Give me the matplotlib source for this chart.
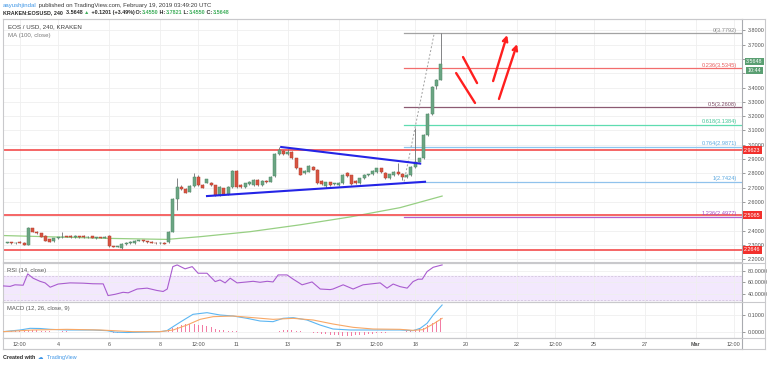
import matplotlib
matplotlib.use('Agg')
import matplotlib.pyplot as plt
from matplotlib.lines import Line2D
import numpy as np

plt.rcParams['font.family'] = ['Liberation Sans', 'DejaVu Sans']

# EOS/USD 4H candles on Kraken, first candle Feb 2 00:00, last Feb 19 00:00
first_day = 2.0
opens = [2.315, 2.318, 2.312, 2.322, 2.315, 2.302,
         2.415, 2.392, 2.380, 2.362, 2.340, 2.328,
         2.345, 2.352, 2.360, 2.362, 2.354, 2.360,
         2.362, 2.354, 2.360, 2.345, 2.352, 2.350,
         2.362, 2.292, 2.288, 2.278, 2.305, 2.310,
         2.310, 2.328, 2.330, 2.325, 2.322, 2.316,
         2.310, 2.315, 2.320, 2.392, 2.620, 2.706,
         2.690, 2.672, 2.711, 2.776, 2.718, 2.734,
         2.735, 2.715, 2.648, 2.695, 2.655, 2.706,
         2.818, 2.720, 2.705, 2.725, 2.718, 2.753,
         2.718, 2.748, 2.741, 2.780, 2.935, 2.955,
         2.935, 2.950, 2.905, 2.835, 2.800, 2.811,
         2.846, 2.825, 2.745, 2.712, 2.737, 2.725,
         2.718, 2.730, 2.800, 2.785, 2.748, 2.730,
         2.765, 2.788, 2.795, 2.810, 2.835, 2.804,
         2.765, 2.788, 2.811, 2.795, 2.776, 2.785,
         2.846, 2.881, 2.905, 3.068, 3.215, 3.410,
         3.455]
highs = [2.322, 2.322, 2.320, 2.326, 2.318, 2.425,
         2.418, 2.395, 2.385, 2.366, 2.344, 2.350,
         2.356, 2.390, 2.364, 2.366, 2.366, 2.364,
         2.366, 2.360, 2.364, 2.356, 2.356, 2.360,
         2.366, 2.295, 2.294, 2.310, 2.320, 2.326,
         2.335, 2.334, 2.334, 2.328, 2.326, 2.320,
         2.318, 2.320, 2.398, 2.630, 2.765, 2.715,
         2.695, 2.716, 2.804, 2.785, 2.724, 2.762,
         2.740, 2.720, 2.708, 2.700, 2.710, 2.822,
         2.822, 2.728, 2.735, 2.745, 2.758, 2.758,
         2.752, 2.752, 2.780, 2.940, 2.985, 2.965,
         2.972, 2.955, 2.910, 2.840, 2.825, 2.856,
         2.852, 2.830, 2.750, 2.742, 2.742, 2.735,
         2.738, 2.792, 2.810, 2.790, 2.752, 2.770,
         2.792, 2.798, 2.820, 2.840, 2.840, 2.810,
         2.798, 2.816, 2.870, 2.800, 2.792, 2.850,
         3.115, 2.910, 3.075, 3.220, 3.410, 3.460,
         3.7821]
lows = [2.310, 2.308, 2.308, 2.312, 2.298, 2.298,
        2.388, 2.376, 2.352, 2.325, 2.318, 2.322,
        2.342, 2.350, 2.352, 2.350, 2.350, 2.350,
        2.350, 2.350, 2.346, 2.340, 2.346, 2.346,
        2.283, 2.284, 2.284, 2.272, 2.302, 2.306,
        2.306, 2.324, 2.322, 2.316, 2.310, 2.306,
        2.305, 2.304, 2.316, 2.388, 2.543, 2.685,
        2.660, 2.668, 2.706, 2.712, 2.695, 2.730,
        2.714, 2.643, 2.643, 2.650, 2.650, 2.700,
        2.695, 2.700, 2.700, 2.720, 2.712, 2.712,
        2.714, 2.733, 2.736, 2.774, 2.930, 2.930,
        2.928, 2.900, 2.830, 2.785, 2.795, 2.806,
        2.820, 2.725, 2.720, 2.700, 2.713, 2.720,
        2.713, 2.725, 2.772, 2.720, 2.725, 2.725,
        2.760, 2.783, 2.790, 2.805, 2.800, 2.760,
        2.760, 2.783, 2.790, 2.753, 2.770, 2.780,
        2.840, 2.876, 2.900, 3.060, 3.210, 3.390,
        3.455]
closes = [2.318, 2.312, 2.316, 2.315, 2.302, 2.415,
          2.392, 2.380, 2.358, 2.327, 2.322, 2.345,
          2.352, 2.357, 2.356, 2.354, 2.360, 2.355,
          2.354, 2.356, 2.350, 2.352, 2.350, 2.356,
          2.290, 2.288, 2.290, 2.305, 2.315, 2.322,
          2.330, 2.330, 2.327, 2.320, 2.315, 2.310,
          2.312, 2.308, 2.392, 2.620, 2.706, 2.690,
          2.664, 2.711, 2.776, 2.718, 2.700, 2.758,
          2.718, 2.648, 2.702, 2.655, 2.706, 2.818,
          2.702, 2.705, 2.730, 2.741, 2.753, 2.718,
          2.748, 2.738, 2.776, 2.935, 2.960, 2.935,
          2.950, 2.905, 2.835, 2.790, 2.818, 2.851,
          2.825, 2.730, 2.725, 2.737, 2.718, 2.730,
          2.734, 2.788, 2.778, 2.725, 2.730, 2.765,
          2.788, 2.793, 2.814, 2.835, 2.806, 2.765,
          2.793, 2.811, 2.795, 2.776, 2.790, 2.846,
          2.881, 2.905, 3.068, 3.215, 3.406, 3.455,
          3.5648]

# MA(100, close)
ma_days = [1.84, 4.35, 6.04, 8.27, 9.57, 11.53, 13.49, 15.45, 17.41, 19.06]
ma_vals = [2.365, 2.353, 2.345, 2.338, 2.357, 2.392, 2.440, 2.495, 2.560, 2.641]

# RSI(14)
rsi_days = [1.84, 2.12, 2.31, 2.63, 2.81, 3.02, 3.29, 3.49, 3.69, 4.00, 4.47, 4.98,
            5.37, 5.77, 5.96, 6.24, 6.55, 6.75, 7.10, 7.49, 7.88, 8.12, 8.28, 8.50,
            8.67, 8.98, 9.26, 9.49, 9.84, 10.16, 10.35, 10.55, 10.75, 11.02, 11.41,
            11.65, 11.92, 12.20, 12.43, 12.63, 12.98, 13.22, 13.57, 13.96, 14.28,
            14.67, 14.78, 15.18, 15.57, 15.96, 16.63, 16.90, 17.14, 17.41, 17.69,
            17.92, 18.12, 18.28, 18.47, 18.71, 19.06]
rsi_vals = [53.8, 53.0, 55.7, 55.0, 74.4, 67.0, 61.7, 59.0, 51.6, 57.0, 59.0, 58.5,
            57.5, 57.3, 37.3, 39.5, 42.9, 42.0, 48.5, 50.0, 46.0, 44.3, 48.5, 86.8,
            89.7, 83.0, 86.8, 75.5, 75.5, 61.2, 64.0, 59.0, 67.0, 59.0, 60.6,
            61.7, 60.0, 61.7, 60.6, 72.6, 72.6, 65.3, 55.7, 60.6, 48.5,
            47.5, 48.5, 55.7, 48.5, 55.7, 59.0, 50.0, 57.0, 52.6, 50.0,
            61.2, 65.3, 65.3, 78.3, 85.7, 89.7]

# MACD(12, 26, close, 9)
macd_days = [1.84, 2.51, 2.90, 3.29, 3.69, 4.35, 5.37, 5.92, 6.24, 6.71, 7.22, 8.00,
             8.27, 8.51, 8.86, 9.29, 9.84, 10.35, 10.86, 11.41, 11.92, 12.43, 12.82,
             13.22, 13.76, 14.27, 14.78, 15.45, 16.75, 17.41, 17.92, 18.20, 18.47,
             18.71, 19.06]
macd_vals = [0.000, 0.010, 0.020, 0.019, 0.014, 0.010, 0.010, 0.006, -0.003, -0.005,
             -0.003, 0.000, 0.006, 0.030, 0.064, 0.104, 0.114, 0.100, 0.094, 0.080,
             0.064, 0.060, 0.080, 0.084, 0.070, 0.040, 0.016, 0.010, 0.010, 0.010,
             0.006, 0.020, 0.050, 0.100, 0.160]
signal_days = [1.84, 3.02, 4.35, 5.65, 6.94, 8.00, 8.51, 9.06, 9.57, 10.08, 10.86,
               11.65, 12.43, 13.22, 14.00, 14.78, 15.57, 16.35, 17.41, 17.92, 18.31,
               18.71, 19.06]
signal_vals = [0.000, 0.010, 0.014, 0.010, 0.000, 0.000, 0.010, 0.040, 0.074, 0.090,
               0.094, 0.084, 0.074, 0.080, 0.070, 0.046, 0.026, 0.016, 0.014, 0.008,
               0.012, 0.046, 0.080]
hist_vals = [0.004, 0.005, 0.006, 0.006, 0.005, 0.008,
             0.009, 0.008, 0.006, 0.003, 0.001, 0.000,
             0.000, 0.001, 0.001, 0.000, 0.000, 0.000,
             -0.001, 0.000, -0.001, -0.001, -0.001, 0.000,
             -0.004, -0.006, -0.006, -0.005, -0.004, -0.003,
             -0.002, -0.001, -0.001, -0.001, -0.002, -0.002,
             -0.002, -0.002, 0.004, 0.020, 0.030, 0.038,
             0.044, 0.046, 0.046, 0.042, 0.038, 0.032,
             0.025, 0.018, 0.012, 0.008, 0.005, 0.003,
             0.001, -0.001, -0.002, -0.002, -0.003, -0.003,
             -0.004, -0.004, -0.003, 0.000, 0.004, 0.007,
             0.008, 0.007, 0.004, 0.001, -0.002, -0.004,
             -0.007, -0.011, -0.014, -0.016, -0.018, -0.020,
             -0.022, -0.024, -0.025, -0.025, -0.023, -0.021,
             -0.019, -0.016, -0.013, -0.010, -0.008, -0.006,
             -0.005, -0.003, -0.002, 0.000, 0.002, 0.005,
             0.008, 0.014, 0.024, 0.037, 0.052, 0.066,
             0.080]

# drawn levels
support_levels = [2.9623, 2.5065, 2.2646]
fib_ratios = ['0', '0.236', '0.5', '0.618', '0.764', '1', '1.236']
fib_prices = [3.7792, 3.5345, 3.2608, 3.1384, 2.9871, 2.7424, 2.4977]
fib_colors = ['#a3a3a3', '#f26d6d', '#8c5a72', '#5fdcb0', '#8cc6f0', '#90c2ec', '#b45fd0']
fib_text_colors = ['#8a8a8a', '#e85a5a', '#7d4d66', '#3fc596', '#5aa8e0', '#5aa8e0', '#a44cc4']
fib_days = [17.57, 18.75]
fib_trend = [2.7424, 3.7792]
tri_upper_days, tri_upper = [12.75, 18.20], [2.984, 2.868]
tri_lower_days, tri_lower = [9.84, 18.39], [2.641, 2.741]
strokes = [([19.88, 20.43], [3.613, 3.431]), ([19.61, 20.35], [3.501, 3.292])]
arrows = [((21.06, 3.445), (21.61, 3.767)), ((21.29, 3.320), (22.00, 3.704))]

tick_days = [2.5, 4, 6, 8, 9.5, 11, 13, 15, 16.5, 18, 20, 22, 23.5, 25, 27, 29, 30.5]
tick_labels = ['12:00', '4', '6', '8', '12:00', '11', '13', '15', '12:00', '18',
               '20', '22', '12:00', '25', '27', 'Mar', '12:00']
# price scale labels covered by the coloured price boxes
hidden_price_ticks = [2.5, 3.5, 3.6]

UP, DOWN = '#6ba583', '#d75442'
RED = '#f44a4a'
GRID = '#efefef'
BORDER = '#c9c9cc'
LABEL = '#505050'

W, H = 768, 365
fig = plt.figure(figsize=(W / 100, H / 100), dpi=100)


def box(x0, y0, x1, y1):
    return [x0 / W, 1 - y1 / H, (x1 - x0) / W, (y1 - y0) / H]


ax = fig.add_axes(box(3, 19, 742, 262))
ax_rsi = fig.add_axes(box(3, 263, 742, 302), sharex=ax)
ax_macd = fig.add_axes(box(3, 302, 742, 338), sharex=ax)
ax_time = fig.add_axes(box(3, 338, 742, 349), sharex=ax)

for a in (ax, ax_rsi, ax_macd, ax_time):
    for s in a.spines.values():
        s.set_color(BORDER)
        s.set_linewidth(0.8)
    a.spines['right'].set_color('#a9abb0')
    a.set_xticks(tick_days)
    a.tick_params(axis='x', bottom=False, labelbottom=False)
    a.grid(True, axis='both', color=GRID, lw=0.6)
    a.set_axisbelow(True)
    a.yaxis.tick_right()
    a.tick_params(axis='y', labelsize=3.9, colors=LABEL, length=2, width=0.4, pad=2)
ax.set_xlim(1.84, 30.82)

# ---- price pane
days = first_day + np.arange(len(opens)) / 6
o, h, l, c = (np.array(v) for v in (opens, highs, lows, closes))
up = c >= o
cols = np.where(up, UP, DOWN)
ax.vlines(days, l, h, color='#6f7072', lw=0.6, zorder=3)
ax.bar(days, np.maximum(np.abs(c - o), 0.004), bottom=np.minimum(o, c), width=0.115,
       color=cols, edgecolor=np.where(up, '#4f8a67', '#b8412f'), lw=0.35, zorder=4)

ax.plot(ma_days, ma_vals, color='#97cf83', lw=0.9, zorder=2)

for lvl in support_levels:
    ax.axhline(lvl, color=RED, lw=1.4, alpha=0.85, zorder=2)
    ax.text(1.003, lvl, f'{lvl:.4f}', transform=ax.get_yaxis_transform(), ha='left', va='center',
            fontsize=3.9, color='white', clip_on=False, zorder=10,
            bbox=dict(boxstyle='square,pad=0.3', fc='#f2302c', ec='none'))

for ratio, price, col, tcol in zip(fib_ratios, fib_prices, fib_colors, fib_text_colors):
    ax.plot([fib_days[0], ax.get_xlim()[1]], [price, price], color=col, lw=0.9, zorder=2)
    ax.text(0.993, price + 0.004, f'{ratio}({price:.4f})', transform=ax.get_yaxis_transform(),
            ha='right', va='bottom', fontsize=4.1, color=tcol, zorder=6)
ax.plot(fib_days, fib_trend, color='#a0a0a0', lw=0.7, ls=(0, (2, 2)), zorder=2)

ax.plot(tri_upper_days, tri_upper, color='#2424e6', lw=1.5, zorder=5)
ax.plot(tri_lower_days, tri_lower, color='#2424e6', lw=1.5, zorder=5)

for xs, ys in strokes:
    ax.plot(xs, ys, color='#ff1f1f', lw=1.7, solid_capstyle='round', zorder=6)
for start, end in arrows:
    ax.annotate('', xy=end, xytext=start, zorder=6,
                arrowprops=dict(arrowstyle='->', color='#ff1f1f', lw=1.7,
                                mutation_scale=8, shrinkA=0, shrinkB=0))

ax.set_ylim(2.180, 3.879)
price_ticks = np.round(np.arange(2.2, 3.85, 0.1), 1)
ax.set_yticks(price_ticks)
ax.set_yticklabels(['' if v in hidden_price_ticks else f'{v:.4f}' for v in price_ticks])

last = closes[-1]
ax.annotate(f'{last:.4f}', xy=(1.0, last), xycoords=ax.get_yaxis_transform(),
            xytext=(3, 1.8), textcoords='offset points', ha='left', va='center',
            fontsize=3.9, color='white', annotation_clip=False, zorder=10,
            bbox=dict(boxstyle='square,pad=0.25', fc='#5a9f72', ec='none'))
ax.annotate('10:44', xy=(1.0, last), xycoords=ax.get_yaxis_transform(),
            xytext=(4, -4.8), textcoords='offset points', ha='left', va='center',
            fontsize=3.9, color='white', annotation_clip=False, zorder=10,
            bbox=dict(boxstyle='square,pad=0.25', fc='#5a9f72', ec='none'))

ax.text(0.007, 0.977, 'EOS / USD, 240, KRAKEN', transform=ax.transAxes, ha='left', va='top',
        fontsize=4.4, color='#3c3c3c')
ax.text(0.007, 0.943, 'MA (100, close)', transform=ax.transAxes, ha='left', va='top',
        fontsize=4.4, color='#7a7a7a')

# ---- RSI pane
ax_rsi.axhspan(30, 70, color='#f3e8fd', zorder=0)
for lvl in (70, 30):
    ax_rsi.axhline(lvl, color='#cdbfd8', lw=0.5, ls=(0, (3, 2)), zorder=1)
ax_rsi.plot(rsi_days, rsi_vals, color='#a95ccf', lw=0.8, zorder=3)
ax_rsi.set_ylim(26.3, 93)
ax_rsi.set_yticks([40, 60, 80])
ax_rsi.set_yticklabels(['40.0000', '60.0000', '80.0000'])
ax_rsi.text(0.006, 0.88, 'RSI (14, close)', transform=ax_rsi.transAxes, ha='left', va='top',
            fontsize=4.2, color='#555555')

# ---- MACD pane
ax_macd.bar(days, hist_vals, width=0.035, color='#f27ca4', zorder=2)
ax_macd.plot(macd_days, macd_vals, color='#5cb6f2', lw=0.8, zorder=3)
ax_macd.plot(signal_days, signal_vals, color='#f8a866', lw=0.8, zorder=3)
ax_macd.set_ylim(-0.038, 0.178)
ax_macd.set_yticks([0.0, 0.1])
ax_macd.set_yticklabels(['0.0000', '0.1000'])
ax_macd.text(0.006, 0.9, 'MACD (12, 26, close, 9)', transform=ax_macd.transAxes, ha='left',
             va='top', fontsize=4.2, color='#555555')

# ---- time axis strip
ax_time.grid(False)
ax_time.set_yticks([])
ax_time.set_ylim(0, 1)
for d, lab in zip(tick_days, tick_labels):
    ax_time.text(d, 0.45, lab, ha='center', va='center', fontsize=3.9, color=LABEL,
                 fontweight='bold' if lab == 'Mar' else 'normal', clip_on=True)

# outer frame and separators in the price-scale column
for y in (19, 262.5, 302, 338, 349):
    fig.add_artist(Line2D([3 / W, 765 / W], [1 - y / H, 1 - y / H], color=BORDER, lw=0.8))
fig.add_artist(Line2D([765 / W, 765 / W], [1 - 19 / H, 1 - 349 / H], color=BORDER, lw=0.8))

# ---- header and footer runs of coloured text
renderer = fig.canvas.get_renderer()


def text_run(x_px, y_px, parts, size):
    x = x_px
    for s, col, weight in parts:
        t = fig.text(x / W, 1 - y_px / H, s, color=col, fontsize=size, fontweight=weight,
                     ha='left', va='center')
        x += t.get_window_extent(renderer).width


GREEN = '#3fae5c'
DARK = '#2a2a2a'
text_run(3, 5.5, [('aayushjindal', '#3d95e6', 'normal'),
                  (' published on TradingView.com, February 19, 2019 03:49:20 UTC', '#3a3a3a',
                   'normal')], 4.3)
text_run(3, 12.8, [('KRAKEN:EOSUSD, 240', DARK, 'bold'), ('  3.5648 ', DARK, 'bold'),
                   ('▲', GREEN, 'bold'), (' +0.1201 (+3.49%)', DARK, 'bold'),
                   (' O:', DARK, 'bold'), ('3.4550', GREEN, 'bold'),
                   (' H:', DARK, 'bold'), ('3.7821', GREEN, 'bold'),
                   (' L:', DARK, 'bold'), ('3.4550', GREEN, 'bold'),
                   (' C:', DARK, 'bold'), ('3.5648', GREEN, 'bold')], 3.9)
text_run(3, 357.5, [('Created with', DARK, 'bold'), ('  ☁', '#3d95e6', 'normal'),
                    ('  TradingView', '#3d95e6', 'normal')], 3.9)

fig.savefig('out.png', dpi=100, facecolor='white')
